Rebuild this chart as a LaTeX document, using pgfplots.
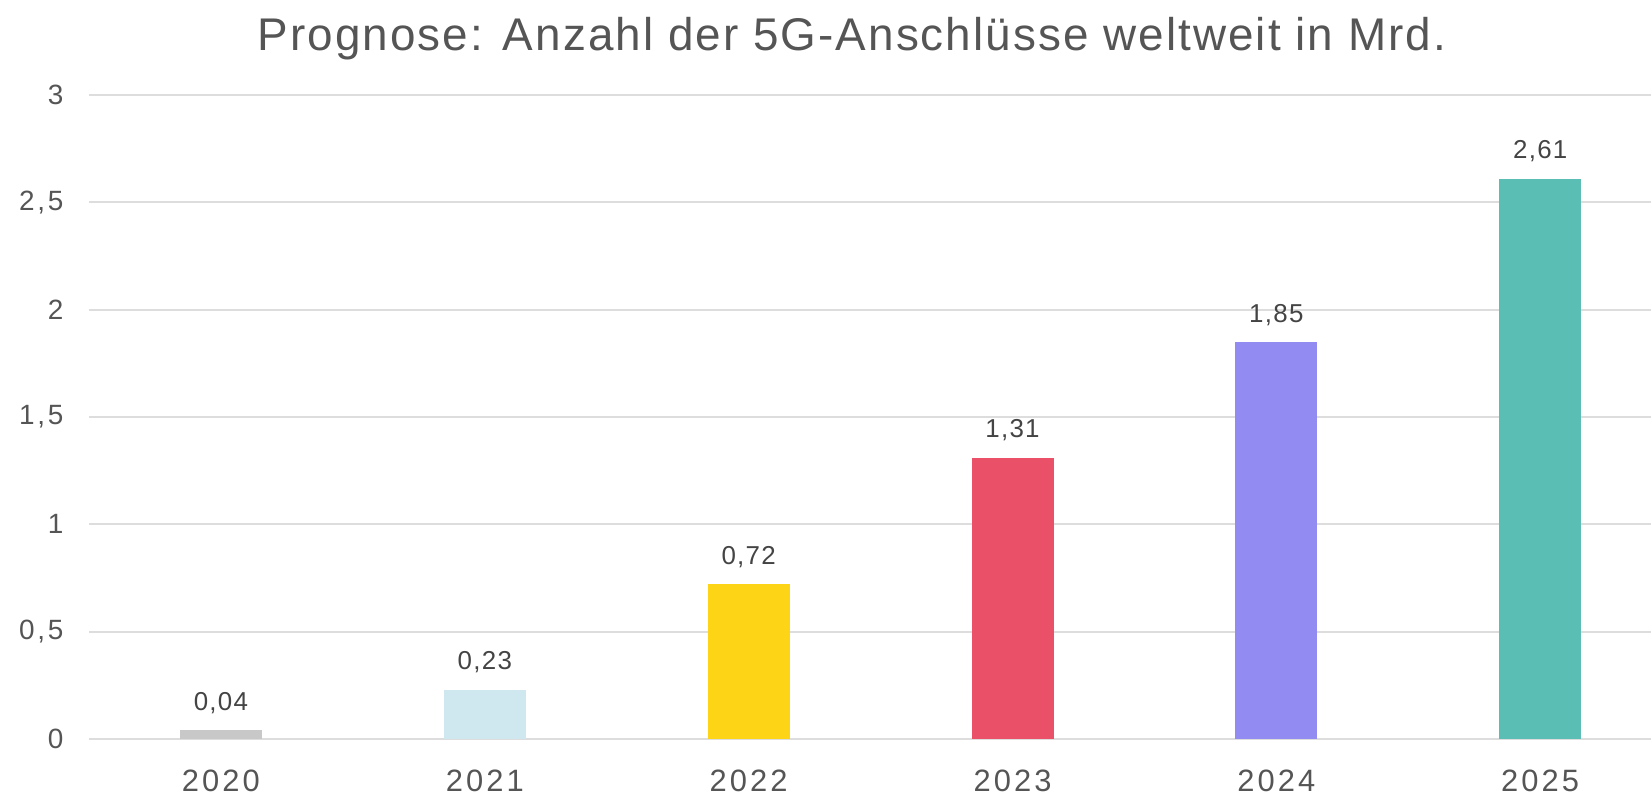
\documentclass[border=0pt]{standalone}
\usepackage{pgfplots}
\pgfplotsset{compat=1.18}
\usepackage{fontspec}
\setmainfont{Liberation Sans}
\newfontfamily\titlefont[LetterSpace=4.5]{Liberation Sans}
\newfontfamily\tickfont[LetterSpace=10]{Liberation Sans}
\newfontfamily\valfont[LetterSpace=5]{Liberation Sans}
\definecolor{c20}{HTML}{C8C8C8}
\definecolor{c21}{HTML}{CFE8EF}
\definecolor{c22}{HTML}{FDD516}
\definecolor{c23}{HTML}{EA5068}
\definecolor{c24}{HTML}{918BF2}
\definecolor{c25}{HTML}{5BBEB5}
\definecolor{gridc}{HTML}{DDDDDD}
\definecolor{tickc}{HTML}{555555}
\definecolor{valc}{HTML}{444444}
\begin{document}
\begin{tikzpicture}
\begin{axis}[
  scale only axis,
  width=1562bp, height=644bp,
  xmin=-0.5, xmax=5.42,
  ymin=0, ymax=3,
  ytick={0,0.5,1,1.5,2,2.5,3},
  xtick={0,1,2,3,4,5},
  xticklabels={2020,2021,2022,2023,2024,2025},
  axis line style={draw=none},
  major tick length=0pt,
  ymajorgrids,
  grid style={gridc, line width=1.8bp},
  /pgf/number format/assume math mode=true,
  /pgf/number format/use comma,
  yticklabel style={font=\tickfont\fontsize{28}{30}\selectfont, text=tickc, anchor=east, xshift=-22bp},
  xticklabel style={font=\tickfont\fontsize{31}{34}\selectfont, text=tickc, anchor=center, yshift=-42bp, inner ysep=1bp},
  ybar, bar width=82bp, bar shift=0pt,
  nodes near coords,
  nodes near coords style={font=\valfont\fontsize{26}{28}\selectfont, text=valc, anchor=south, yshift=13bp,
    /pgf/number format/fixed, /pgf/number format/fixed zerofill, /pgf/number format/precision=2, /pgf/number format/use comma},
  clip=false,
]
\addplot[fill=c20, draw=none] coordinates {(0,0.04)};
\addplot[fill=c21, draw=none] coordinates {(1,0.23)};
\addplot[fill=c22, draw=none] coordinates {(2,0.72)};
\addplot[fill=c23, draw=none] coordinates {(3,1.31)};
\addplot[fill=c24, draw=none] coordinates {(4,1.85)};
\addplot[fill=c25, draw=none] coordinates {(5,2.61)};
\coordinate (O) at (rel axis cs:0,0);
\end{axis}
\node[font=\titlefont\fontsize{46}{50}\selectfont, text=tickc] at ([shift={(763bp,700bp)}]O) {Prognose: Anzahl der 5G-Anschlüsse weltweit in Mrd.};
\pgfresetboundingbox
\path ([shift={(-89bp,-58bp)}]O) rectangle ([shift={(1562bp,739bp)}]O);
\end{tikzpicture}
\end{document}
